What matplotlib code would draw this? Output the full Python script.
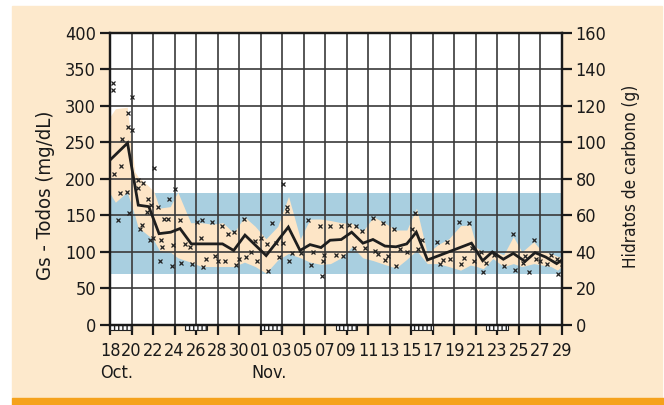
import matplotlib
matplotlib.use("Agg")
import matplotlib.pyplot as plt
from matplotlib import font_manager
from matplotlib.patches import Rectangle

# pick a narrow face if one is around, else Roboto
names = {f.name for f in font_manager.fontManager.ttflist}
narrow = [f for f in font_manager.fontManager.ttflist
          if f.name == 'DejaVu Sans' and 'condensed' in str(f.stretch)]
if 'Liberation Sans Narrow' in names:
    fam, stretch, fs = 'Liberation Sans Narrow', 'normal', 13
elif narrow:
    fam, stretch, fs = 'DejaVu Sans', 'condensed', 12
else:
    fam, stretch, fs = 'Roboto', 'normal', 11.5
plt.rcParams['font.family'] = [fam, 'DejaVu Sans']
plt.rcParams['font.stretch'] = stretch
tick_fs = fs * 1.08
lab_l = (fs - 0.5) * 1.27
lab_r = (fs - 0.5) * 1.075

# days counted from 18 Oct
tick_days = list(range(0, 43, 2))
tick_labels = ['18', '20', '22', '24', '26', '28', '30', '01', '03', '05', '07',
               '09', '11', '13', '15', '17', '19', '21', '23', '25', '27', '29']
month_days = [0, 14]
month_labels = ['Oct.', 'Nov.']

# median line
med_days = [0.09, 1.63, 2.63, 3.61, 4.56, 5.65, 6.51, 7.56, 8.5, 9.5, 10.46, 11.5, 12.55, 14.52,
            16.58, 17.67, 18.6, 19.62, 20.46, 21.5, 22.47, 23.52, 24.45, 25.57, 26.59, 27.59,
            28.48, 29.52, 33.61, 34.65, 35.55, 36.57, 37.5, 38.59, 39.52, 40.51, 41.53, 42.03]
med_vals = [227, 249, 164, 162, 125, 127, 132, 111, 111, 111, 111, 102, 123, 95,
            134, 102, 110, 106, 116, 117, 127, 112, 117, 108, 107, 111,
            127, 89, 112, 88, 100, 90, 98, 87, 99, 93, 84, 89]

# interquartile band
band_days = [0.0, 0.5, 1.6, 2.3, 2.6, 3.6, 4.1, 4.6, 5.6, 6.3, 7.5, 8.5, 9.5, 10.5, 11.5, 12.5,
             13.5, 14.5, 15.6, 16.6, 17.7, 18.6, 19.6, 20.5, 21.5, 22.5, 23.5, 24.5, 25.5, 26.6,
             27.6, 28.5, 29.5, 30.5, 31.5, 32.6, 33.5, 34.1, 34.7, 35.6, 36.6, 37.5, 38.3, 39.4,
             40.2, 41.0, 41.6, 42.0]
band_hi = [285, 296, 298, 210, 203, 190, 182, 160, 162, 182, 140, 140, 138, 140, 126, 148,
           135, 118, 135, 176, 118, 145, 145, 143, 140, 139, 128, 148, 140, 130,
           130, 160, 98, 110, 118, 136, 137, 106, 100, 102, 96, 121, 100, 114,
           100, 98, 94, 93]
band_lo = [180, 168, 182, 150, 134, 122, 115, 102, 100, 92, 86, 80, 80, 80, 80, 86,
           80, 71, 89, 98, 92, 86, 83, 84, 92, 107, 92, 88, 83, 78,
           90, 102, 84, 84, 80, 75, 82, 80, 77, 91, 80, 84, 80, 84,
           82, 80, 75, 80]

# individual readings
pt_days = [0.31, 0.31, 2.07, 1.65, 1.70, 2.02, 1.09, 1.02, 0.40, 4.12, 2.63, 3.10, 2.58, 0.93,
           1.55, 6.04, 3.56, 5.49, 3.81, 4.44, 0.72, 1.77, 3.41, 4.99, 5.42, 6.51, 8.06, 8.53,
           9.46, 10.44, 3.00, 2.79, 3.97, 3.72, 4.74, 4.86, 5.89, 6.97, 7.44, 8.46, 4.65, 5.74,
           6.60, 7.60, 8.62, 8.93, 9.76, 10.07, 11.0, 11.53, 12.46, 15.03, 16.11, 16.49, 16.50,
           10.69, 11.69, 12.02, 12.65, 13.08, 13.48, 13.71, 14.04, 14.66, 15.43, 15.71, 16.11,
           16.67, 14.57, 18.44, 19.48, 20.46, 16.95, 17.76, 18.9, 19.94, 18.69, 19.68, 19.83,
           21.48, 22.25, 22.87, 23.4, 24.43, 25.41, 26.41, 28.08, 28.36, 28.98, 30.38, 31.38,
           32.45, 33.41, 20.99, 21.69, 22.66, 23.71, 24.64, 24.92, 25.88, 25.57, 26.94, 27.59,
           28.67, 26.59, 30.92, 30.73, 31.66, 32.94, 32.64, 33.88, 33.64, 34.5, 34.93, 34.71,
           35.73, 36.63, 37.66, 37.44, 38.59, 38.43, 38.99, 39.42, 39.58, 39.98, 40.6, 41.0,
           41.53, 41.68, 42.0]
pt_vals = [331, 322, 312, 290, 271, 267, 254, 218, 207, 215, 199, 194, 188, 180,
           182, 186, 172, 172, 164, 162, 144, 153, 154, 145, 145, 144, 141, 144,
           141, 136, 137, 131, 119, 116, 116, 107, 109, 111, 107, 119, 88, 81,
           85, 83, 80, 91, 95, 88, 124, 127, 145, 139, 193, 162, 156,
           88, 82, 90, 93, 100, 115, 87, 119, 74, 112, 93, 112,
           87, 111, 144, 135, 136, 99, 98, 100, 96, 82, 67, 88,
           135, 137, 135, 129, 147, 140, 131, 131, 153, 116, 114, 113,
           141, 139, 96, 95, 105, 106, 101, 97, 95, 89, 104, 100,
           104, 81, 89, 83, 91, 92, 83, 87, 105, 100, 85, 72,
           96, 81, 75, 125, 94, 85, 72, 116, 90, 88, 83, 96,
           90, 70, 84]

target_lo, target_hi = 70, 180
weekend_starts = [0, 7, 14, 21, 28, 35]
weekend_len = 2

bg = '#fde9cc'
fig = plt.figure(figsize=(6.64, 4.05), dpi=100)
fig.patches.append(Rectangle((12 / 664, 7 / 405), 650 / 664, 392 / 405,
                             transform=fig.transFigure, color=bg, zorder=-10))
fig.patches.append(Rectangle((12 / 664, 0), 652 / 664, 7 / 405,
                             transform=fig.transFigure, color='#f5a21c', zorder=-10))

ax = fig.add_axes([110 / 664, 80 / 405, 451.7 / 664, 292.3 / 405])
ax.set_facecolor('white')
ax.axhspan(target_lo, target_hi, color='#a9cfe0', zorder=1, lw=0)
ax.fill_between(band_days, band_lo, band_hi, color='#fde5c6', lw=0, zorder=2)
ax.plot(pt_days, pt_vals, 'x', color='#222222', ms=3.2, mew=0.9, zorder=5)
ax.plot(med_days, med_vals, color='#1e1e1e', lw=2.0, zorder=6, solid_joinstyle='miter')

ax.bar(weekend_starts, [7] * len(weekend_starts), width=weekend_len, bottom=-7.5,
       align='edge', color='white', edgecolor='#222222', lw=0.8, hatch='||||',
       clip_on=False, zorder=7)

ax.set_xlim(0, 42)
ax.set_ylim(0, 400)
ax.set_xticks(tick_days)
ax.set_xticklabels(tick_labels)
ax.set_yticks(range(0, 401, 50))
ax.grid(True, color='#3a3a3a', lw=1.2, zorder=3)
ax.set_axisbelow(False)
for s in ax.spines.values():
    s.set_linewidth(1.6)
    s.set_color('#1a1a1a')
    s.set_zorder(8)
ax.tick_params(axis='both', direction='out', length=7, width=1.6, labelsize=tick_fs, pad=3,
               colors='#1a1a1a')
ax.tick_params(axis='x', pad=5)
ax.set_ylabel('Gs - Todos (mg/dL)', fontsize=lab_l, color='#1a1a1a')
ax.yaxis.set_label_coords(-0.122, 0.445)

# month names sit under the first tick label of each month, left aligned
for d, m in zip(month_days, month_labels):
    ax.text(d - 0.9, -0.135, m, transform=ax.get_xaxis_transform(), ha='left', va='top',
            fontsize=tick_fs, color='#1a1a1a')

ax2 = ax.twinx()
ax2.set_ylim(0, 160)
ax2.set_yticks(range(0, 161, 20))
ax2.tick_params(axis='y', direction='out', length=7, width=1.6, labelsize=tick_fs, pad=3,
                colors='#1a1a1a')
for s in ax2.spines.values():
    s.set_linewidth(1.6)
    s.set_color('#1a1a1a')
ax2.set_ylabel('Hidratos de carbono (g)', fontsize=lab_r, color='#1a1a1a')
ax2.yaxis.set_label_coords(1.133, 0.508)

fig.savefig('out.png', dpi=100, facecolor='white')
